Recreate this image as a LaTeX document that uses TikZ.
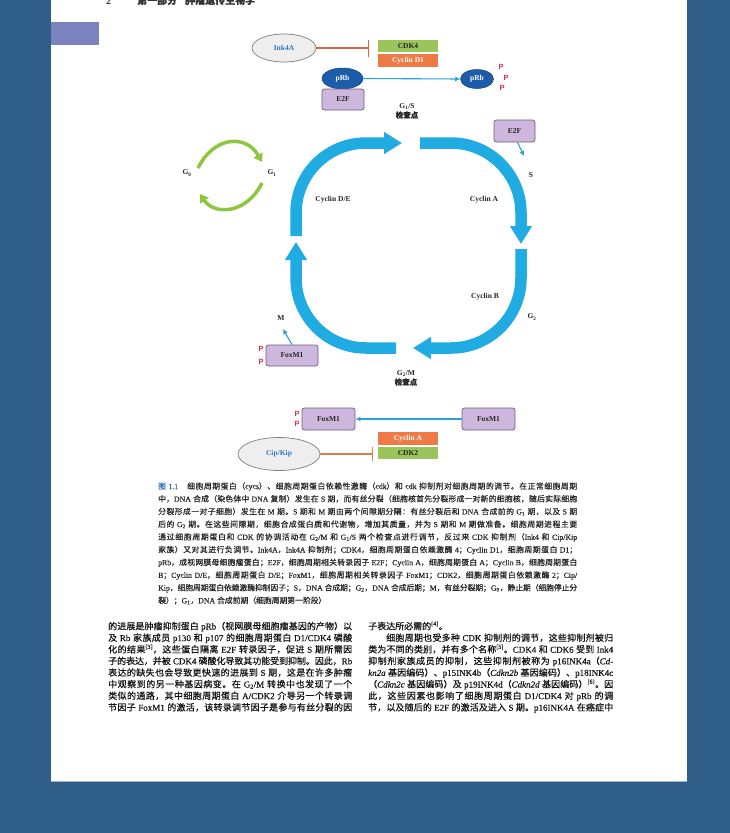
\documentclass[tikz,border=0pt]{standalone}
\usepackage{fontspec}
\setmainfont{Liberation Serif}[UprightFeatures={FakeBold=0.35},ItalicFeatures={FakeBold=0.35}]
\newfontfamily\cjkf[FakeBold=0.5]{Noto Sans CJK SC}
\newfontfamily\sanf{Liberation Sans}
\usetikzlibrary{arrows.meta,shapes.geometric}
\XeTeXinterchartokenstate=1
\newXeTeXintercharclass\cjkcls
\newcount\mycnt
\def\setcls#1#2{\mycnt=#1 \loop\XeTeXcharclass\mycnt=\cjkcls \advance\mycnt by 1 \ifnum\mycnt<#2 \repeat}
\setcls{"3000}{"3040}
\setcls{"4E00}{"A000}
\setcls{"FF00}{"FFF0}
\newcommand\latf{\rmfamily}
\XeTeXinterchartoks 0 \cjkcls = {\cjkf}
\XeTeXinterchartoks 4095 \cjkcls = {\cjkf}
\XeTeXinterchartoks \cjkcls 0 = {\latf}
\XeTeXinterchartoks \cjkcls 4095 = {\latf}
\XeTeXinterchartoks \cjkcls \cjkcls = {\hskip 0pt plus 1pt minus 0.35pt}
\definecolor{pageblue}{HTML}{2F5E88}
\definecolor{headpurple}{HTML}{7A83BE}
\definecolor{cycblue}{HTML}{21ABE3}
\definecolor{arrblue}{HTML}{2AA0DC}
\definecolor{prbblue}{HTML}{1D5CA8}
\definecolor{prbdark}{HTML}{16457F}
\definecolor{e2ffill}{HTML}{CDB7DC}
\definecolor{e2fborder}{HTML}{6E5F80}
\definecolor{cdkgreen}{HTML}{9BC45A}
\definecolor{cycorange}{HTML}{EE7A45}
\definecolor{pred}{HTML}{E0304A}
\definecolor{inhred}{HTML}{D8653F}
\definecolor{inhorange}{HTML}{E27B4A}
\definecolor{garcgreen}{HTML}{8DC63F}
\definecolor{ellfill}{HTML}{EEEEEE}
\definecolor{ellgray}{HTML}{7F7F7F}
\definecolor{inkblue}{HTML}{2B7BBA}
\definecolor{capblue}{HTML}{2F73B8}
\definecolor{captext}{HTML}{262626}
\begin{document}
\begin{tikzpicture}[x=1pt,y=-1pt,
 lbl/.style={font=\fontsize{7.5}{8.5}\selectfont\bfseries, text=black!85, inner sep=0pt},
 pbox/.style={rectangle, draw=e2fborder, fill=e2ffill, rounded corners=2.5pt, line width=0.7pt, inner sep=0pt, font=\fontsize{7.5}{8.5}\selectfont\bfseries, text=black!85},
 cbar/.style={rectangle, inner sep=0pt, minimum width=60pt, minimum height=12.5pt, font=\fontsize{7.5}{8.5}\selectfont\bfseries},
 gell/.style={ellipse, draw=ellgray, fill=ellfill, line width=0.7pt, inner sep=0pt, font=\fontsize{7.5}{8.5}\selectfont\bfseries, text=inkblue},
 bell/.style={ellipse, fill=prbblue, draw=prbdark, line width=0.5pt, inner sep=0pt, text=white, font=\fontsize{7.5}{8.5}\selectfont\bfseries},
 pmark/.style={font=\sanf\fontsize{7.5}{8}\selectfont\bfseries, text=pred, inner sep=0pt},
 cycarrow/.style={line width=11.5pt, draw=cycblue, rounded corners=70pt, -{Triangle[width=21pt,length=18pt]}},
 thinarrow/.style={draw=arrblue, line width=1.1pt, -{Latex[length=5pt,width=5pt]}},
 inhib/.style={draw=inhred, line width=1.1pt, -{Bar[width=17pt]}},
 garc/.style={draw=garcgreen, line width=3.5pt, -{Triangle[width=10pt,length=8pt]}},
 capline/.style={anchor=base west, inner sep=0pt, font=\fontsize{7.8}{9}\selectfont, text=captext},
 bodyline/.style={anchor=base west, inner sep=0pt, font=\fontsize{9}{11}\selectfont, text=black!92}
]
\useasboundingbox (0,0) rectangle (730,833);
\fill[pageblue] (0,0) rectangle (730,833);
\fill[white] (51,-5) rectangle (687,781);
\draw[line width=1pt, color=pageblue!45!white] (51,781.5) -- (687,781.5);
\fill[headpurple] (51,22) rectangle (99,45);
\node[anchor=base west, inner sep=0pt, font=\fontsize{10}{12}\selectfont\bfseries, text=black!80] (hdr) at (106,4) {2\hspace{26pt}第一部分\hspace{8pt}肿瘤遗传生物学};

% top regulators
\node[gell, minimum width=64pt, minimum height=28pt] (ink) at (284,48) {Ink4A};
\coordinate (inkbar) at (369,48);
\draw[inhib] (ink.east) -- (inkbar);
\node[cbar, fill=cdkgreen, text=black!85] (cdk4) at (408,46) {CDK4};
\node[cbar, fill=cycorange, text=white] (cycd1) at (408,60.5) {Cyclin D1};
\node[bell, minimum width=41pt, minimum height=21pt] (prbL) at (342.5,78.5) {pRb};
\node[pbox, minimum width=42pt, minimum height=21pt] (e2fL) at (343,99.5) {E2F};
\node[bell, minimum width=33pt, minimum height=19pt] (prbR) at (477,79) {pRb};
\draw[thinarrow] (prbL.east) -- (prbR.west);
\node[pmark] (p1) at (501,67) {P};
\node[pmark] (p2) at (506,77.5) {P};
\node[pmark] (p3) at (502,88) {P};
\node[lbl, align=center] (g1s) at (407,111) {G\textsubscript{1}/S\\[1pt]检查点};

% cell cycle loop
\draw[cycarrow] (296,236) -- (296,143) -- (402,143);
\draw[cycarrow] (420,143) -- (521,143) -- (521,244);
\draw[cycarrow] (521,249) -- (521,348) -- (413,348);
\draw[cycarrow] (396,348) -- (296,348) -- (296,242);

\node[pbox, minimum width=41pt, minimum height=22pt] (e2fR) at (514.5,131) {E2F};
\coordinate (e2ftip) at (524,156);
\draw[thinarrow] ([xshift=3pt]e2fR.south) -- (e2ftip);
\node[lbl] (sl) at (531,175) {S};
\node[lbl] (cyde) at (333,200) {Cyclin D/E};
\node[lbl] (cyca) at (484,200) {Cyclin A};
\node[lbl] (cycb) at (485,297) {Cyclin B};
\node[lbl] (g2l) at (532,317) {G\textsubscript{2}};
\node[lbl] (ml) at (281,318) {M};

% G0 / G1
\node[lbl] (g0) at (187,173) {G\textsubscript{0}};
\node[lbl] (g1) at (272,173) {G\textsubscript{1}};
\draw[garc] (198,168) .. controls (214,136) and (246,134) .. (262,162);
\draw[garc] (262,183) .. controls (246,215) and (214,215) .. (200,194);

% FoxM1 near M
\node[pbox, minimum width=52pt, minimum height=21pt] (foxA) at (292,355.5) {FoxM1};
\node[pmark] (p4) at (261,349) {P};
\node[pmark] (p5) at (261,362) {P};
\coordinate (mtip) at (283,329);
\draw[thinarrow] (foxA.north) -- (mtip);
\node[lbl, align=center] (g2m) at (406,378) {G\textsubscript{2}/M\\[1pt]检查点};

% bottom regulators
\node[pbox, minimum width=53pt, minimum height=22pt] (foxL) at (328.5,419) {FoxM1};
\node[pmark] (p6) at (297,414) {P};
\node[pmark] (p7) at (297,424) {P};
\node[pbox, minimum width=53pt, minimum height=22pt] (foxR) at (488.5,419) {FoxM1};
\draw[thinarrow] (foxR.west) -- (foxL.east);
\node[cbar, fill=cycorange, text=white] (cyca2) at (408,438.5) {Cyclin A};
\node[cbar, fill=cdkgreen, text=black!85] (cdk2) at (408,453) {CDK2};
\node[gell, minimum width=82pt, minimum height=33pt] (cip) at (279,454) {Cip/Kip};
\coordinate (cipbar) at (373,454);
\draw[draw=inhorange, line width=1.1pt, -{Bar[width=14pt]}] (cip.east) -- (cipbar);

% caption
\node[capline] (c1) at (158,489) {\hbox to 419pt{\textcolor{capblue}{图 1.1}\hspace{9pt}细胞周期蛋白（cycs）、细胞周期蛋白依赖性激酶（cdk）和 cdk 抑制剂对细胞周期的调节。在正常细胞周期}};
\node[capline] (c2) at (158,501.7) {\hbox to 419pt{中，DNA 合成（染色体中 DNA 复制）发生在 S 期，而有丝分裂（细胞核首先分裂形成一对新的细胞核，随后实际细胞}};
\node[capline] (c3) at (158,514.4) {\hbox to 419pt{分裂形成一对子细胞）发生在 M 期。S 期和 M 期由两个间隙期分隔：有丝分裂后和 DNA 合成前的 G\textsubscript{1} 期，以及 S 期}};
\node[capline] (c4) at (158,527.1) {\hbox to 419pt{后的 G\textsubscript{2} 期。在这些间隙期，细胞合成蛋白质和代谢物，增加其质量，并为 S 期和 M 期做准备。细胞周期进程主要}};
\node[capline] (c5) at (158,539.8) {\hbox to 419pt{通过细胞周期蛋白和 CDK 的协调活动在 G\textsubscript{2}/M 和 G\textsubscript{1}/S 两个检查点进行调节，反过来 CDK 抑制剂（Ink4 和 Cip/Kip}};
\node[capline] (c6) at (158,552.5) {\hbox to 419pt{家族）又对其进行负调节。Ink4A，Ink4A 抑制剂；CDK4，细胞周期蛋白依赖激酶 4；Cyclin D1，细胞周期蛋白 D1；}};
\node[capline] (c7) at (158,565.2) {\hbox to 419pt{pRb，成视网膜母细胞瘤蛋白；E2F，细胞周期相关转录因子 E2F；Cyclin A，细胞周期蛋白 A；Cyclin B，细胞周期蛋白}};
\node[capline] (c8) at (158,577.9) {\hbox to 419pt{B；Cyclin D/E，细胞周期蛋白 D/E；FoxM1，细胞周期相关转录因子 FoxM1；CDK2，细胞周期蛋白依赖激酶 2；Cip/}};
\node[capline] (c9) at (158,590.6) {\hbox to 419pt{Kip，细胞周期蛋白依赖激酶抑制因子；S，DNA 合成期；G\textsubscript{2}，DNA 合成后期；M，有丝分裂期；G\textsubscript{0}，静止期（细胞停止分}};
\node[capline] (c10) at (158,603.3) {裂）；G\textsubscript{1}，DNA 合成前期（细胞周期第一阶段）};

% body, left column
\node[bodyline] (l1) at (108,629.5) {\hbox to 244pt{的进展是肿瘤抑制蛋白 pRb（视网膜母细胞瘤基因的产物）以}};
\node[bodyline] (l2) at (108,641.1) {\hbox to 244pt{及 Rb 家族成员 p130 和 p107 的细胞周期蛋白 D1/CDK4 磷酸}};
\node[bodyline] (l3) at (108,652.7) {\hbox to 244pt{化的结果\textsuperscript{[3]}，这些蛋白隔离 E2F 转录因子，促进 S 期所需因}};
\node[bodyline] (l4) at (108,664.3) {\hbox to 244pt{子的表达，并被 CDK4 磷酸化导致其功能受到抑制。因此，Rb}};
\node[bodyline] (l5) at (108,675.9) {\hbox to 244pt{表达的缺失也会导致更快速的进展到 S 期，这是在许多肿瘤}};
\node[bodyline] (l6) at (108,687.5) {\hbox to 244pt{中观察到的另一种基因病变。在 G\textsubscript{2}/M 转换中也发现了一个}};
\node[bodyline] (l7) at (108,699.1) {\hbox to 244pt{类似的通路，其中细胞周期蛋白 A/CDK2 介导另一个转录调}};
\node[bodyline] (l8) at (108,710.7) {\hbox to 244pt{节因子 FoxM1 的激活，该转录调节因子是参与有丝分裂的因}};

% body, right column
\node[bodyline] (r1) at (368,629.5) {子表达所必需的\textsuperscript{[4]}。};
\node[bodyline] (r2) at (368,641.1) {\hbox to 245pt{\hspace{18pt}细胞周期也受多种 CDK 抑制剂的调节，这些抑制剂被归}};
\node[bodyline] (r3) at (368,652.7) {\hbox to 245pt{类为不同的类别，并有多个名称\textsuperscript{[5]}。CDK4 和 CDK6 受到 Ink4}};
\node[bodyline] (r4) at (368,664.3) {\hbox to 245pt{抑制剂家族成员的抑制，这些抑制剂被称为 p16INK4a（\textit{Cd-}}};
\node[bodyline] (r5) at (368,675.9) {\hbox to 245pt{\textit{kn2a} 基因编码）、p15INK4b（\textit{Cdkn2b} 基因编码）、p18INK4c}};
\node[bodyline] (r6) at (368,687.5) {\hbox to 245pt{（\textit{Cdkn2c} 基因编码）及 p19INK4d（\textit{Cdkn2d} 基因编码）\textsuperscript{[6]}。因}};
\node[bodyline] (r7) at (368,699.1) {\hbox to 245pt{此，这些因素也影响了细胞周期蛋白 D1/CDK4 对 pRb 的调}};
\node[bodyline] (r8) at (368,710.7) {\hbox to 245pt{节，以及随后的 E2F 的激活及进入 S 期。p16INK4A 在癌症中}};
\end{tikzpicture}
\end{document}
